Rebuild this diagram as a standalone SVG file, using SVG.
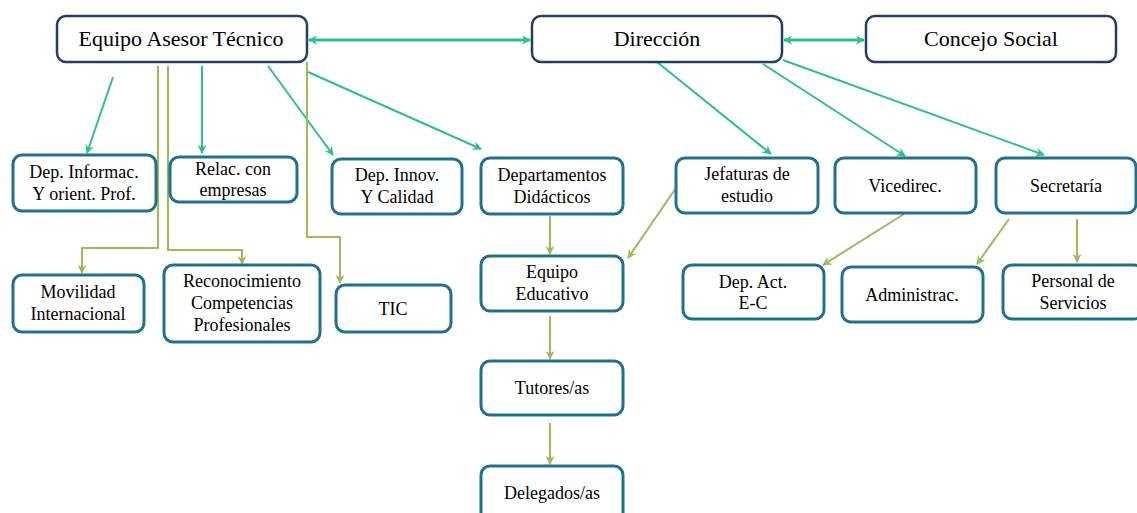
<svg xmlns="http://www.w3.org/2000/svg" width="1137" height="513" viewBox="0 0 1137 513">
<style>
.top{fill:#fff;stroke:#243f60;stroke-width:2.5}
.box{fill:#fff;stroke:#21708d;stroke-width:3}
text{font-family:'Liberation Serif','DejaVu Serif',serif;fill:#000;text-anchor:middle}
.t1{font-size:22px}
.t2{font-size:18px}
.teal{stroke:#2dbf91;stroke-width:2;fill:none}
.tealb{stroke:#2dbf91;stroke-width:3;fill:none}
.olive{stroke:#9bbb59;stroke-width:2;fill:none}
</style>
<defs>
<marker id="aT" viewBox="0 0 10 10" refX="9" refY="5" markerWidth="9" markerHeight="9" markerUnits="userSpaceOnUse" orient="auto-start-reverse"><path d="M0,0 L10,5 L0,10 L3,5 Z" fill="#2dbf91"/></marker>
<marker id="aO" viewBox="0 0 10 10" refX="9" refY="5" markerWidth="9" markerHeight="9" markerUnits="userSpaceOnUse" orient="auto"><path d="M0,0 L10,5 L0,10 L3,5 Z" fill="#9bbb59"/></marker>
</defs>
<rect width="1137" height="513" fill="#fff"/>
<g id="connectors">
<line class="tealb" x1="309" y1="40" x2="530" y2="40" marker-start="url(#aT)" marker-end="url(#aT)"/>
<line class="tealb" x1="784" y1="40" x2="864" y2="40" marker-start="url(#aT)" marker-end="url(#aT)"/>
<line class="teal" x1="113" y1="77" x2="87" y2="153" marker-end="url(#aT)"/>
<line class="teal" x1="202" y1="66" x2="202" y2="153" marker-end="url(#aT)"/>
<line class="teal" x1="268" y1="66" x2="333" y2="155" marker-end="url(#aT)"/>
<line class="teal" x1="308" y1="72" x2="481" y2="149" marker-end="url(#aT)"/>
<line class="teal" x1="657" y1="62" x2="771" y2="154" marker-end="url(#aT)"/>
<line class="teal" x1="763" y1="64" x2="905" y2="156" marker-end="url(#aT)"/>
<line class="teal" x1="783" y1="60" x2="1044" y2="155" marker-end="url(#aT)"/>
<polyline class="olive" points="158,66 158,248 82,248 82,273" marker-end="url(#aO)"/>
<polyline class="olive" points="168,66 168,250 242,250 242,264" marker-end="url(#aO)"/>
<polyline class="olive" points="307,62 307,237 340,237 340,283" marker-end="url(#aO)"/>
<line class="olive" x1="550" y1="216" x2="550" y2="254" marker-end="url(#aO)"/>
<line class="olive" x1="676" y1="188" x2="628" y2="258" marker-end="url(#aO)"/>
<line class="olive" x1="550" y1="316" x2="550" y2="359" marker-end="url(#aO)"/>
<line class="olive" x1="550" y1="423" x2="550" y2="464" marker-end="url(#aO)"/>
<line class="olive" x1="904" y1="214" x2="823" y2="265" marker-end="url(#aO)"/>
<line class="olive" x1="1009" y1="219" x2="977" y2="264" marker-end="url(#aO)"/>
<line class="olive" x1="1077" y1="219" x2="1077" y2="262" marker-end="url(#aO)"/>
</g>
<g id="n-equipo-asesor"><rect class="top" x="57" y="16" width="250" height="46" rx="9"/><text class="t1" x="181" y="46">Equipo Asesor Técnico</text></g>
<g id="n-direccion"><rect class="top" x="532" y="16" width="250" height="46" rx="9"/><text class="t1" x="657" y="46">Dirección</text></g>
<g id="n-concejo"><rect class="top" x="866" y="16" width="250" height="46" rx="9"/><text class="t1" x="991" y="46">Concejo Social</text></g>
<g id="n-dep-informac"><rect class="box" x="13" y="155" width="143" height="56" rx="9"/><text class="t2" x="84" y="178">Dep. Informac.</text><text class="t2" x="84" y="200">Y orient. Prof.</text></g>
<g id="n-relac"><rect class="box" x="170" y="157" width="127" height="45" rx="9"/><text class="t2" x="233" y="175">Relac. con</text><text class="t2" x="233" y="196">empresas</text></g>
<g id="n-innov"><rect class="box" x="332" y="159" width="130" height="55" rx="9"/><text class="t2" x="397" y="181">Dep. Innov.</text><text class="t2" x="397" y="203">Y Calidad</text></g>
<g id="n-deptos"><rect class="box" x="481" y="158" width="142" height="56" rx="9"/><text class="t2" x="552" y="181">Departamentos</text><text class="t2" x="552" y="203">Didácticos</text></g>
<g id="n-jefaturas"><rect class="box" x="676" y="158" width="142" height="55" rx="9"/><text class="t2" x="747" y="180">Jefaturas de</text><text class="t2" x="747" y="202">estudio</text></g>
<g id="n-vicedirec"><rect class="box" x="835" y="158" width="141" height="55" rx="9"/><text class="t2" x="905" y="192">Vicedirec.</text></g>
<g id="n-secretaria"><rect class="box" x="996" y="158" width="140" height="55" rx="9"/><text class="t2" x="1066" y="192">Secretaría</text></g>
<g id="n-movilidad"><rect class="box" x="13" y="275" width="131" height="57" rx="9"/><text class="t2" x="78" y="298">Movilidad</text><text class="t2" x="78" y="320">Internacional</text></g>
<g id="n-reconocimiento"><rect class="box" x="164" y="265" width="156" height="77" rx="9"/><text class="t2" x="242" y="287">Reconocimiento</text><text class="t2" x="242" y="309">Competencias</text><text class="t2" x="242" y="331">Profesionales</text></g>
<g id="n-tic"><rect class="box" x="336" y="285" width="115" height="47" rx="9"/><text class="t2" x="393" y="315">TIC</text></g>
<g id="n-equipo-educativo"><rect class="box" x="481" y="256" width="142" height="55" rx="9"/><text class="t2" x="552" y="278">Equipo</text><text class="t2" x="552" y="300">Educativo</text></g>
<g id="n-dep-act"><rect class="box" x="683" y="265" width="141" height="54" rx="9"/><text class="t2" x="753" y="288">Dep. Act.</text><text class="t2" x="753" y="309">E-C</text></g>
<g id="n-administrac"><rect class="box" x="842" y="267" width="141" height="55" rx="9"/><text class="t2" x="912" y="301">Administrac.</text></g>
<g id="n-personal"><rect class="box" x="1003" y="265" width="140" height="54" rx="9"/><text class="t2" x="1073" y="287">Personal de</text><text class="t2" x="1073" y="309">Servicios</text></g>
<g id="n-tutores"><rect class="box" x="481" y="361" width="142" height="54" rx="9"/><text class="t2" x="552" y="394">Tutores/as</text></g>
<g id="n-delegados"><rect class="box" x="481" y="466" width="142" height="56" rx="9"/><text class="t2" x="552" y="499">Delegados/as</text></g>
</svg>
